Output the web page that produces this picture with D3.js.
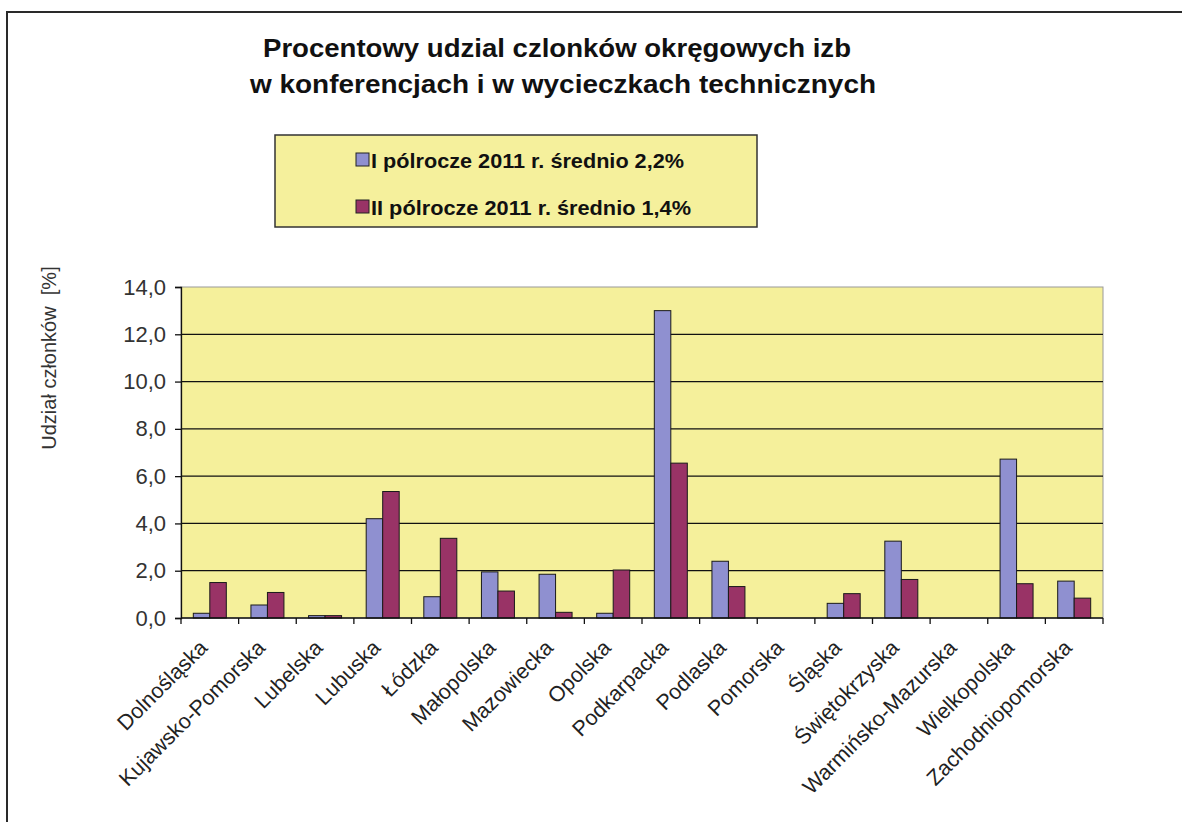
<!DOCTYPE html>
<html>
<head>
<meta charset="utf-8">
<script src="https://cdn.jsdelivr.net/npm/d3@7"></script>
<style>
  html, body { margin: 0; padding: 0; background: #fff; }
  svg { display: block; }
</style>
</head>
<body>
<svg id="chart" width="1182" height="822"></svg>
<script>
const categories = ["Dolnośląska","Kujawsko-Pomorska","Lubelska","Lubuska","Łódzka","Małopolska","Mazowiecka","Opolska","Podkarpacka","Podlaska","Pomorska","Śląska","Świętokrzyska","Warmińsko-Mazurska","Wielkopolska","Zachodniopomorska"];
const seriesNames = ["I pólrocze 2011 r. średnio 2,2%", "II pólrocze 2011 r. średnio 1,4%"];
const half1 = [0.2, 0.55, 0.1, 4.2, 0.9, 1.95, 1.85, 0.2, 13.0, 2.4, 0, 0.62, 3.25, 0, 6.72, 1.56];
const half2 = [1.5, 1.08, 0.1, 5.35, 3.37, 1.14, 0.24, 2.03, 6.55, 1.33, 0, 1.03, 1.63, 0, 1.45, 0.84];
const yTicks = [0, 2, 4, 6, 8, 10, 12, 14];
const titleLines = ["Procentowy udzial czlonków okręgowych izb", "w konferencjach i w wycieczkach technicznych"];
const yLabel = "Udział członków  [%]";

const colors = ["#8f90d0", "#993366"];
const svg = d3.select("#chart");

// outer frame
svg.append("path").attr("d", "M7,822 L7,12 L1182,12").attr("fill", "none").attr("stroke", "#2a2a2a").attr("stroke-width", 2);

const plot = { left: 181, right: 1103, top: 287, bottom: 618 };

// title
svg.append("g").selectAll("text").data(titleLines).join("text")
  .attr("x", (d, i) => i === 0 ? 557 : 563).attr("y", (d, i) => 57 + i * 36)
  .attr("text-anchor", "middle")
  .attr("font-family", "'Liberation Sans Narrow', 'Arial Narrow', 'Liberation Sans', Arial, sans-serif")
  .attr("font-weight", "bold").attr("font-size", 25).attr("fill", "#111")
  .attr("textLength", (d, i) => i === 0 ? 588 : 626)
  .attr("lengthAdjust", "spacingAndGlyphs")
  .text(d => d);

// legend
const lg = svg.append("g");
lg.append("rect").attr("x", 275).attr("y", 135).attr("width", 482).attr("height", 92)
  .attr("fill", "#f5f09c").attr("stroke", "#333").attr("stroke-width", 1.5);
seriesNames.forEach((name, i) => {
  const cy = 160 + i * 47;
  lg.append("rect").attr("x", 356).attr("y", cy - 7).attr("width", 13).attr("height", 13)
    .attr("fill", colors[i]).attr("stroke", "#222").attr("stroke-width", 1);
  lg.append("text").attr("x", 371).attr("y", cy + 8)
    .attr("font-family", "'Liberation Sans', Arial, sans-serif").attr("font-weight", "bold")
    .attr("font-size", 21).attr("fill", "#111")
    .attr("textLength", i === 0 ? 313 : 320).attr("lengthAdjust", "spacingAndGlyphs")
    .text(name);
});

// scales
const x0 = d3.scaleBand().domain(categories).range([plot.left, plot.right]).paddingInner(0).paddingOuter(0);
const groupW = 33;
const x1 = d3.scaleBand().domain([0, 1]).range([0, groupW]).padding(0);
const y = d3.scaleLinear().domain([0, 14]).range([plot.bottom, plot.top]);

// plot background
svg.append("rect").attr("x", plot.left).attr("y", plot.top)
  .attr("width", plot.right - plot.left).attr("height", plot.bottom - plot.top)
  .attr("fill", "#f5f09b").attr("stroke", "#9a9a9a").attr("stroke-width", 1);

// gridlines
svg.append("g").selectAll("line").data(yTicks.filter(t => t > 0 && t < 14)).join("line")
  .attr("x1", plot.left).attr("x2", plot.right)
  .attr("y1", d => y(d)).attr("y2", d => y(d))
  .attr("stroke", "#111").attr("stroke-width", 1.3);

// bars
const groups = svg.append("g").selectAll("g").data(categories).join("g")
  .attr("transform", d => `translate(${x0(d) + (x0.bandwidth() - groupW) / 2},0)`);
groups.selectAll("rect").data((d, i) => [half1[i], half2[i]]).join("rect")
  .attr("x", (v, j) => x1(j))
  .attr("width", x1.bandwidth())
  .attr("y", v => y(v))
  .attr("height", v => y(0) - y(v))
  .attr("fill", (v, j) => colors[j])
  .attr("stroke", "#1a1a1a").attr("stroke-width", 1)
  .attr("visibility", v => v > 0 ? "visible" : "hidden");

// y axis
const yAxis = d3.axisLeft(y).tickValues(yTicks).tickSize(6).tickPadding(9)
  .tickFormat(d => d3.format(".1f")(d).replace(".", ","));
const yg = svg.append("g").attr("transform", `translate(${plot.left},0)`).call(yAxis);
yg.select(".domain").attr("stroke", "#111").attr("stroke-width", 1.3);
yg.selectAll(".tick line").attr("stroke", "#111").attr("stroke-width", 1.3);
yg.selectAll(".tick text").attr("font-family", "'Liberation Sans', Arial, sans-serif")
  .attr("font-size", 22).attr("fill", "#333");

// x axis
const xg = svg.append("g").attr("transform", `translate(0,${plot.bottom})`);
xg.append("line").attr("x1", plot.left).attr("x2", plot.right).attr("y1", 0).attr("y2", 0)
  .attr("stroke", "#111").attr("stroke-width", 1.3);
const bounds = categories.map(c => x0(c)).concat([plot.right]);
xg.selectAll("line.tk").data(bounds).join("line").attr("class", "tk")
  .attr("x1", d => d).attr("x2", d => d).attr("y1", 0).attr("y2", 6)
  .attr("stroke", "#111").attr("stroke-width", 1.3);
xg.selectAll("text").data(categories).join("text")
  .attr("transform", d => `translate(${x0(d) + x0.bandwidth() / 2 - 1},${31}) rotate(-45)`)
  .attr("text-anchor", "end")
  .attr("font-family", "'Liberation Sans', Arial, sans-serif")
  .attr("font-size", 21.5).attr("fill", "#222")
  .text(d => d);

// y label
svg.append("text")
  .attr("transform", `translate(56,${358}) rotate(-90)`)
  .attr("text-anchor", "middle")
  .attr("font-family", "'Liberation Sans', Arial, sans-serif")
  .attr("font-size", 20).attr("fill", "#333")
  .style("white-space", "pre")
  .text(yLabel);
</script>
</body>
</html>
